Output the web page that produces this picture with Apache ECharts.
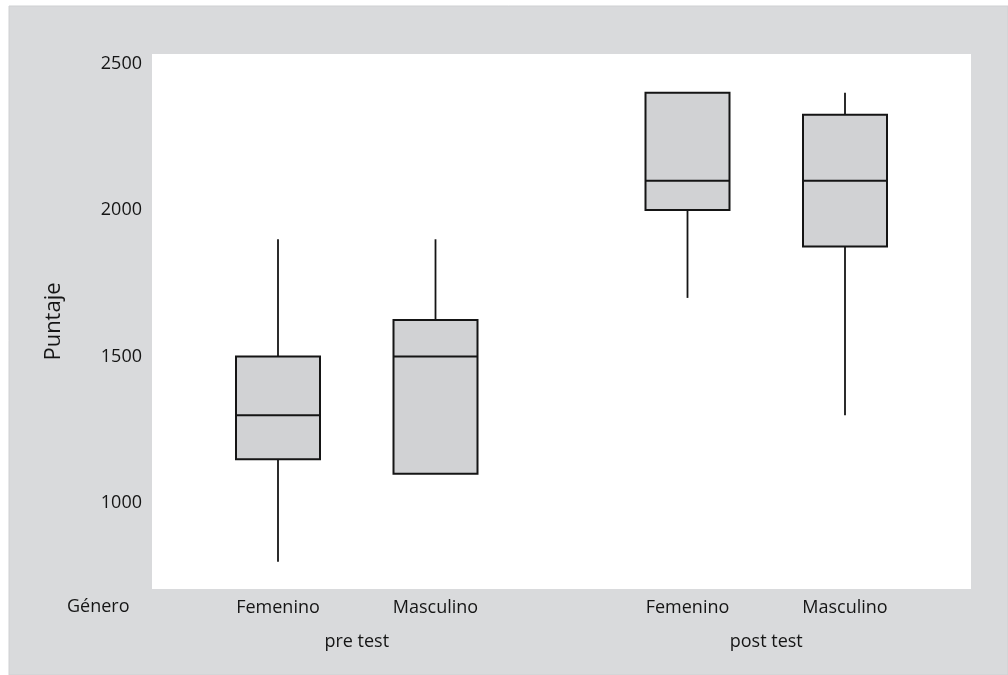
<!DOCTYPE html>
<html>
<head>
<meta charset="utf-8">
<script src="https://cdn.jsdelivr.net/npm/echarts@6/dist/echarts.min.js"></script>
<style>
html,body{margin:0;padding:0;background:#ffffff;}
#chart{width:1008px;height:675px;}
</style>
</head>
<body>
<div id="chart"></div>
<script>
// ---- data ----
const groups = ['pre test', 'post test'];
const categories = ['Femenino', 'Masculino'];
const factorName = 'Género';
const yTicks = [1000, 1500, 2000, 2500];
// [min, Q1, median, Q3, max] for each group, each category
const preTest  = [[800, 1150, 1300, 1500, 1900], [1100, 1100, 1500, 1625, 1900]];
const postTest = [[1700, 2000, 2100, 2400, 2400], [1300, 1875, 2100, 2325, 2400]];
const groupStats = [preTest, postTest];

// ---- layout helpers (positions on an abstract x scale) ----
const FIRST = 4, CAT_STEP = 5, GROUP_STEP = 13;
const boxData = [];
const catTickVals = [], catTickNames = [];
const groupTickVals = [], groupTickNames = [];
groupStats.forEach((g, gi) => {
  const pos = [];
  g.forEach((s, ci) => {
    const x = FIRST + gi * GROUP_STEP + ci * CAT_STEP;
    pos.push(x);
    boxData.push([x].concat(s));
    catTickVals.push(x);
    catTickNames.push(categories[ci]);
  });
  groupTickVals.push((pos[0] + pos[pos.length - 1]) / 2);
  groupTickNames.push(groups[gi]);
});

const FONT = 'Open Sans';
const TXT = '#151515';
const FS = 18;
const chart = echarts.init(document.getElementById('chart'), null, {renderer: 'canvas'});

function renderBox(params, api) {
  const x = api.value(0);
  const mn = api.value(1), q1 = api.value(2), md = api.value(3), q3 = api.value(4), mx = api.value(5);
  const pMin = api.coord([x, mn]), pQ1 = api.coord([x, q1]), pMd = api.coord([x, md]);
  const pQ3 = api.coord([x, q3]), pMax = api.coord([x, mx]);
  const hw = 42;
  const lineStyle = {stroke: '#151515', lineWidth: 1.8};
  const children = [];
  if (mx > q3) children.push({type: 'line', shape: {x1: pMax[0], y1: pMax[1], x2: pQ3[0], y2: pQ3[1]}, style: lineStyle});
  if (mn < q1) children.push({type: 'line', shape: {x1: pQ1[0], y1: pQ1[1], x2: pMin[0], y2: pMin[1]}, style: lineStyle});
  children.push({type: 'rect', shape: {x: pQ3[0] - hw, y: pQ3[1], width: hw * 2, height: pQ1[1] - pQ3[1]},
    style: {fill: '#d1d2d4', stroke: '#151515', lineWidth: 2}});
  children.push({type: 'line', shape: {x1: pMd[0] - hw, y1: pMd[1], x2: pMd[0] + hw, y2: pMd[1]}, style: {stroke: '#151515', lineWidth: 2}});
  return {type: 'group', children: children};
}

chart.setOption({
  animation: false,
  backgroundColor: '#ffffff',
  graphic: [
    {type: 'rect', z: -10, shape: {x: 9, y: 6, width: 999, height: 669}, style: {fill: '#d9dadc', stroke: '#cfd0d2', lineWidth: 1}},
    {type: 'text', left: 67, top: 598, style: {text: factorName, fontFamily: FONT, fontSize: FS, fill: TXT}}
  ],
  grid: {left: 152, top: 54, right: 37, bottom: 86, show: true, backgroundColor: '#ffffff', borderWidth: 0},
  xAxis: [
    {type: 'value', min: 0, max: 26, position: 'bottom',
      axisLine: {show: false}, axisTick: {show: false}, splitLine: {show: false},
      axisLabel: {customValues: catTickVals, formatter: v => catTickNames[catTickVals.indexOf(v)] || '',
        fontFamily: FONT, fontSize: FS, color: TXT, margin: 10}},
    {type: 'value', min: 0, max: 26, position: 'bottom', offset: 34,
      axisLine: {show: false}, axisTick: {show: false}, splitLine: {show: false},
      axisLabel: {customValues: groupTickVals, formatter: v => groupTickNames[groupTickVals.indexOf(v)] || '',
        fontFamily: FONT, fontSize: FS, color: TXT, margin: 10}}
  ],
  yAxis: {type: 'value', min: 707, max: 2532,
    name: 'Puntaje', nameLocation: 'middle', nameGap: 87, nameRotate: 90,
    nameTextStyle: {fontFamily: FONT, fontSize: 22, color: TXT},
    axisLine: {show: false}, axisTick: {show: false}, splitLine: {show: false},
    axisLabel: {customValues: yTicks, formatter: v => String(v), fontFamily: FONT, fontSize: FS, color: TXT, margin: 10}},
  series: [{
    type: 'custom', xAxisIndex: 0, yAxisIndex: 0,
    renderItem: renderBox,
    encode: {x: 0, y: [1, 2, 3, 4, 5]},
    data: boxData
  }]
});
</script>
</body>
</html>
